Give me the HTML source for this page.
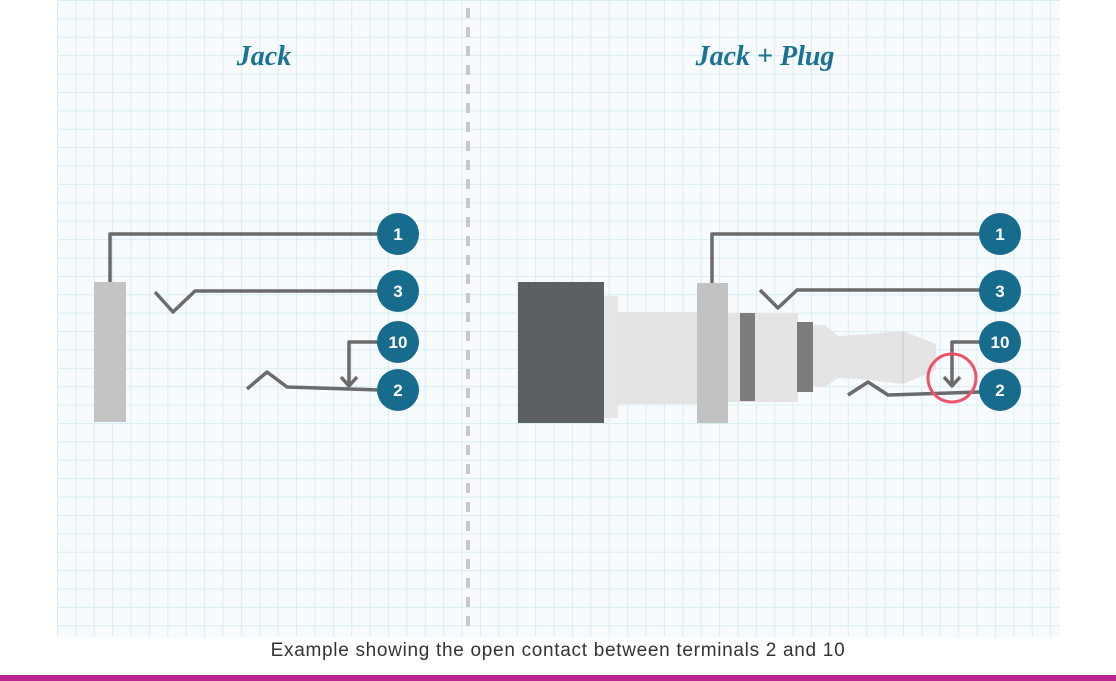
<!DOCTYPE html>
<html><head><meta charset="utf-8"><style>
html,body{margin:0;padding:0;width:1116px;height:681px;overflow:hidden;background:#fff}
.grid{position:absolute;left:57px;top:0;width:1003px;height:637px;background-color:#f7fbfd;
background-image:linear-gradient(to right,#d9edf3 1px,transparent 1px),linear-gradient(to bottom,#d9edf3 1px,transparent 1px);
background-size:18.4px 18.4px;}
.cap{position:absolute;left:0;width:1116px;top:640px;text-align:center;font:19px "Liberation Sans",sans-serif;letter-spacing:0.7px;color:#333}
.bar{position:absolute;left:0;top:675px;width:1116px;height:6px;background:#b72590}
</style></head><body>
<div class="grid"></div>
<svg width="1116" height="681" style="position:absolute;left:0;top:0">
<line x1="468" y1="8" x2="468" y2="630" stroke="#c8c8c8" stroke-width="4" stroke-dasharray="10 9"/>
<g font-family="'Liberation Serif',serif" font-style="italic" font-weight="bold" font-size="28" fill="#1b7393" text-anchor="middle">
<text x="264" y="65">Jack</text>
<text x="765" y="65">Jack + Plug</text>
</g>
<rect x="94" y="282" width="32" height="140" fill="#c4c4c4"/>
<g fill="none" stroke="#6b6b6b" stroke-width="3.5" stroke-linejoin="round">
<polyline points="110,282 110,234 380,234"/>
<polyline points="155,292 173,312 195,291 380,291"/>
<polyline points="380,342 349,342 349,385"/>
<polyline points="341,377 349,386 357,377"/>
<polyline points="247,389 267,372 287,387 380,390"/>
</g>
<rect x="518" y="282" width="86" height="141" fill="#5d6063"/>
<rect x="604" y="296" width="14" height="122" fill="#e6e6e6"/>
<rect x="617" y="312" width="82" height="92" fill="#e4e4e4"/>
<rect x="697" y="283" width="31" height="140" fill="#c2c2c2"/>
<rect x="728" y="313" width="70" height="89" fill="#e4e4e4"/>
<rect x="740" y="313" width="15" height="88" fill="#7c7c7c"/>
<rect x="797" y="322" width="16" height="70" fill="#7c7c7c"/>
<polygon points="813,325 825,325 838,336 870,334 903,331 936,344 936,370 903,384 870,380 838,378 825,387 813,387" fill="#e4e4e4"/>
<line x1="903" y1="332" x2="903" y2="383" stroke="#d0d0d0" stroke-width="1.5"/>
<g fill="none" stroke="#6b6b6b" stroke-width="3.5" stroke-linejoin="round">
<polyline points="712,283 712,234 980,234"/>
<polyline points="760,290 778,308 797,290 980,290"/>
<polyline points="980,342 952,342 952,385"/>
<polyline points="944,377 952,386 960,377"/>
<polyline points="848,395 868,382 888,395 980,392"/>
</g>
<circle cx="952" cy="378" r="24" fill="none" stroke="#f0506a" stroke-width="3"/>
<g fill="#176b8c">
<circle cx="398" cy="234" r="21"/><circle cx="398" cy="291" r="21"/><circle cx="398" cy="342" r="21"/><circle cx="398" cy="390" r="21"/>
<circle cx="1000" cy="234" r="21"/><circle cx="1000" cy="291" r="21"/><circle cx="1000" cy="342" r="21"/><circle cx="1000" cy="390" r="21"/>
</g>
<g font-family="'Liberation Sans',sans-serif" font-weight="bold" font-size="17" fill="#fff" text-anchor="middle">
<text x="398" y="240">1</text><text x="398" y="297">3</text><text x="398" y="348">10</text><text x="398" y="396">2</text>
<text x="1000" y="240">1</text><text x="1000" y="297">3</text><text x="1000" y="348">10</text><text x="1000" y="396">2</text>
</g>
</svg>
<div class="cap">Example showing the open contact between terminals 2 and 10</div>
<div class="bar"></div>
</body></html>
